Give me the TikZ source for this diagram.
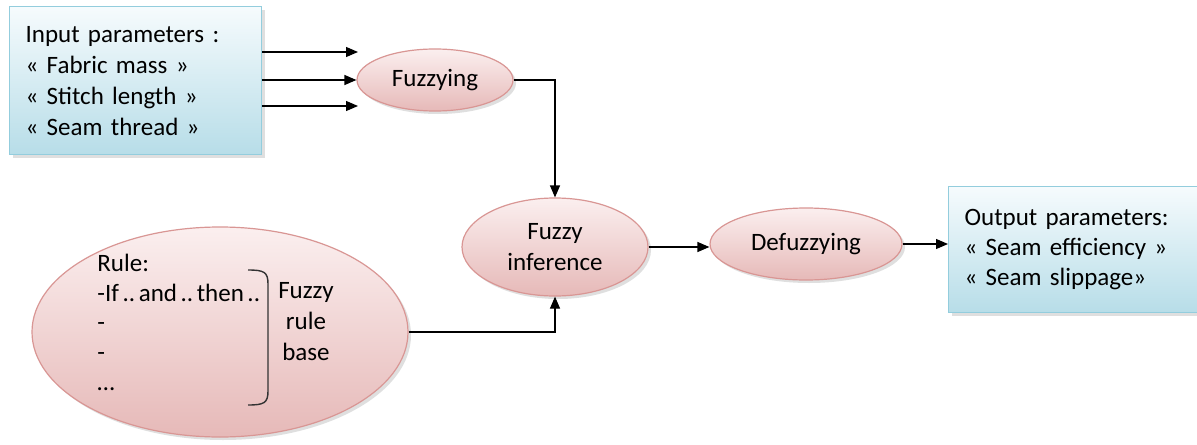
\documentclass[tikz,border=0pt]{standalone}
\usepackage{fontspec}
\setmainfont{Carlito}
\usetikzlibrary{arrows.meta,calc,shadows,shapes.geometric}

\definecolor{paramtop}{HTML}{F6FBFD}
\definecolor{parambot}{HTML}{B7DDE8}
\definecolor{paramline}{HTML}{93CDDD}
\definecolor{steptop}{HTML}{FBEFEF}
\definecolor{stepbot}{HTML}{E6B9B8}
\definecolor{stepline}{HTML}{D99694}

\newcommand{\gap}{\hspace{1.8pt}}

\tikzset{
	txt/.style={font=\fontsize{12.5}{15.5}\selectfont},
	parambox/.style={txt, rectangle, draw=paramline, line width=0.6pt,
		top color=paramtop, bottom color=parambot, align=left,
		anchor=north west, inner sep=8pt,
		drop shadow={shadow xshift=1.5pt, shadow yshift=-1.5pt, opacity=0.25}},
	stepnode/.style={txt, ellipse, draw=stepline, line width=0.6pt,
		top color=steptop, bottom color=stepbot, align=center, inner sep=0pt,
		drop shadow={shadow xshift=1.5pt, shadow yshift=-1.5pt, opacity=0.25}},
	flow/.style={-{Triangle[length=6pt,width=5pt]}, line width=0.6pt},
	link/.style={line width=0.6pt}
}

\begin{document}
\begin{tikzpicture}[x=0.5pt, y=-0.5pt]
		%%%%% START %%%%%
		
		\path[fill=white, use as bounding box] (0,0) rectangle (1197,444);
		
		\node[parambox, minimum width=126pt, minimum height=74pt, text width=110pt] (input) at (9,6)
			{Input parameters :\\« Fabric mass »\\« Stitch length »\\« Seam thread »};
		\node[parambox, font=\fontsize{12.5}{15}\selectfont, minimum width=126pt, minimum height=63pt,
			text width=110pt, inner ysep=5pt] (output) at (948,186)
			{Output parameters:\\« Seam efficiency »\\« Seam slippage»\\[-4pt]};
		
		\node[stepnode, minimum width=78pt, minimum height=31pt] (fuzz) at (435,80) {Fuzzying};
		\node[stepnode, minimum width=93pt, minimum height=49pt] (infer) at (555,247) {Fuzzy\\inference};
		\node[stepnode, minimum width=96pt, minimum height=36pt] (defuzz) at (806,244) {Defuzzying};
		\node[stepnode, minimum width=188pt, minimum height=105pt] (rulebase) at (220,332) {};
		
		\node[txt, font=\fontsize{12.5}{14.8}\selectfont, align=left, anchor=north west, inner sep=0pt] (rules) at (97,254)
			{Rule:\\-If\gap..\gap and\gap..\gap then\gap..\\-\\-\\…};
		\draw[line width=0.7pt, color=black!80] (248,270) .. controls (264,270) and (268,272) .. (268,284)
			-- (268,391) .. controls (268,403) and (264,405) .. (248,405);
		\node[txt, align=center, inner sep=0pt] (rulename) at (306,322) {Fuzzy\\rule\\base};
		
		\coordinate (in1) at (358,52);
		\coordinate (in3) at (358,106);
		\draw[flow] (input.east |- in1) -- (in1);
		\draw[flow] (input.east |- fuzz.west) -- (fuzz.west);
		\draw[flow] (input.east |- in3) -- (in3);
		
		\draw[flow] (fuzz.east) -| (infer.north);
		\draw[flow] (rulebase.east) -| (infer.south);
		\draw[flow] (infer.east) -- (infer.east -| defuzz.west);
		\draw[flow] (defuzz.east) -- (defuzz.east -| output.west);
		
		%%%%% END %%%%%
\end{tikzpicture}
\end{document}
